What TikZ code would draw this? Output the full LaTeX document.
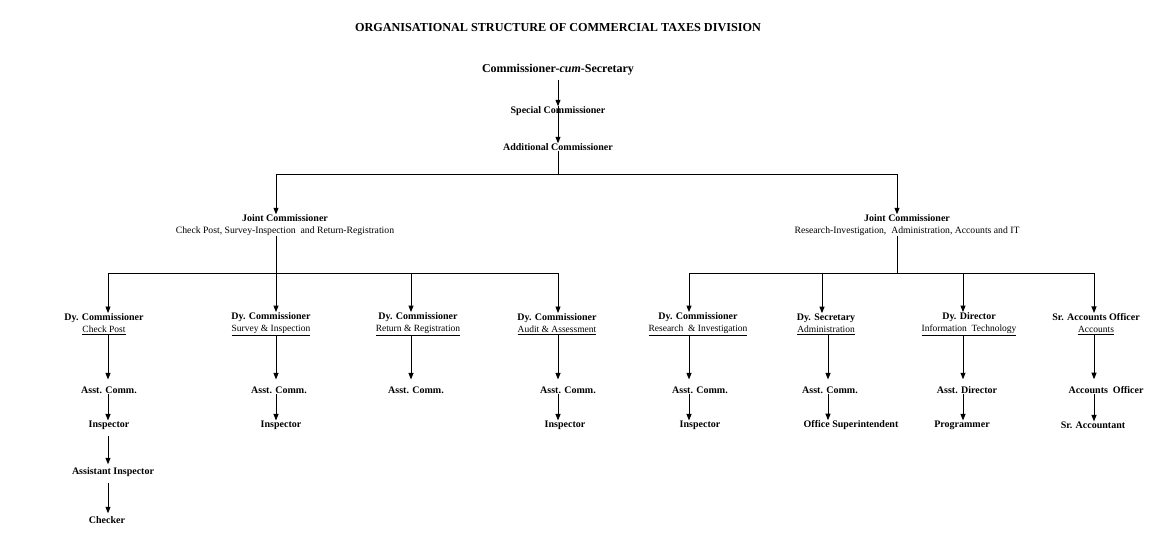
\documentclass[tikz,border=0pt]{standalone}
\usepackage{fontspec}
\setmainfont{Liberation Serif}
\usetikzlibrary{arrows.meta}
\tikzset{
  x=1pt, y=-1pt,
  bl/.style={font=\fontsize{10}{12}\selectfont\bfseries, inner sep=0pt, align=center},
  dy/.style={font=\fontsize{10}{12.5}\selectfont\bfseries, inner sep=0pt, align=center},
  ln/.style={line width=0.9pt},
  arr/.style={line width=0.9pt, -{Triangle[length=6.5pt,width=5pt]}},
}
\newcommand{\subl}[1]{{\normalfont\fontsize{9.5}{12}\selectfont\underline{#1}}}
\newcommand{\subp}[1]{{\normalfont\fontsize{9.7}{12}\selectfont #1}}
\begin{document}
\begin{tikzpicture}
\useasboundingbox[fill=white] (0,0) rectangle (1155,543);
% title
\node[font=\fontsize{12.2}{14}\selectfont\bfseries, inner sep=0pt] (title) at (558,28) {ORGANISATIONAL STRUCTURE OF COMMERCIAL TAXES DIVISION};
\node[font=\fontsize{12}{14}\selectfont\bfseries, inner sep=0pt] (cs) at (558,70) {Commissioner-\textit{cum}-Secretary};
\node[bl] (spec) at (558,111) {Special Commissioner};
\node[bl] (add) at (558,147) {Additional Commissioner};
% joint commissioners
\node[bl] (jl) at (285,225) {Joint Commissioner\\\subp{Check Post, Survey-Inspection\ \ and Return-Registration}};
\node[bl] (jr) at (907,225) {Joint Commissioner\\\subp{Research-Investigation,\ \ Administration, Accounts and IT}};
% bus coordinates
\coordinate (b1L) at (276,174);
\coordinate (b1R) at (897,174);
\coordinate (c1) at (108,273);
\coordinate (c2) at (276,273);
\coordinate (c3) at (411,273);
\coordinate (c4) at (558,273);
\coordinate (c5) at (689,273);
\coordinate (c6) at (822,273);
\coordinate (c7) at (963,273);
\coordinate (c8) at (1094,273);
% deputy level
\node[dy] (d1) at (104,324) {Dy. Commissioner\\\subl{Check Post}};
\node[dy] (d2) at (271,324) {Dy. Commissioner\\\subl{Survey \& Inspection}};
\node[dy] (d3) at (418,324) {Dy. Commissioner\\\subl{Return \& Registration}};
\node[dy] (d4) at (557,324) {Dy. Commissioner\\\subl{Audit \& Assessment}};
\node[dy] (d5) at (698,324) {Dy. Commissioner\\\subl{Research\ \ \& Investigation}};
\node[dy] (d6) at (826,324) {Dy. Secretary\\\subl{Administration}};
\node[dy] (d7) at (969,324) {Dy. Director\\\subl{Information\ \ Technology}};
\node[dy] (d8) at (1096,324) {Sr. Accounts Officer\\\subl{Accounts}};
% assistant level
\node[bl] (a1) at (109,390) {Asst. Comm.};
\node[bl] (a2) at (279,390) {Asst. Comm.};
\node[bl] (a3) at (416,390) {Asst. Comm.};
\node[bl] (a4) at (568,390) {Asst. Comm.};
\node[bl] (a5) at (700,390) {Asst. Comm.};
\node[bl] (a6) at (830,390) {Asst. Comm.};
\node[bl] (a7) at (967,390) {Asst. Director};
\node[bl] (a8) at (1106,390) {Accounts\ \ Officer};
% inspector level
\node[bl] (i1) at (109,425) {Inspector};
\node[bl] (i2) at (281,425) {Inspector};
\node[bl] (i4) at (565,425) {Inspector};
\node[bl] (i5) at (700,425) {Inspector};
\node[bl] (i6) at (851,425) {Office Superintendent};
\node[bl] (i7) at (962,425) {Programmer};
\node[bl] (i8) at (1093,425) {Sr. Accountant};
\node[bl] (ai1) at (113,472) {Assistant Inspector};
\node[bl] (ch1) at (107,520) {Checker};
% top chain
\draw[arr] ([yshift=-4pt]cs.south) -- (spec.north);
\draw[arr] (spec.north) -- (add.north);
\draw[ln] (add.south) -- (add.south |- b1L);
\draw[ln] (b1L) -- (b1R);
\draw[arr] (b1L) -- (b1L |- jl.north);
\draw[arr] (b1R) -- (b1R |- jr.north);
% joint to buses
\draw[ln] (jl.south -| c2) -- (c2);
\draw[ln] (jr.south -| b1R) -- (b1R |- c5);
\draw[ln] (c1) -- (c4);
\draw[ln] (c5) -- (c8);
\foreach \c/\d in {c1/d1,c2/d2,c3/d3,c4/d4,c5/d5,c6/d6,c7/d7,c8/d8}
  \draw[arr] (\c) -- (\c |- \d.north);
% deputy to assistant
\begin{scope}[shorten >=7pt]
\draw[arr] (d1.south -| c1) -- (c1 |- a1.north);
\draw[arr] (d2.south -| c2) -- (c2 |- a2.north);
\draw[arr] (d3.south -| c3) -- (c3 |- a3.north);
\draw[arr] (d4.south -| c4) -- (c4 |- a4.north);
\draw[arr] (d5.south -| c5) -- (c5 |- a5.north);
\draw[arr] ([xshift=6pt]d6.south -| c6) -- ([xshift=6pt]c6 |- a6.north);
\draw[arr] (d7.south -| c7) -- (c7 |- a7.north);
\draw[arr] (d8.south -| c8) -- (c8 |- a8.north);
\end{scope}
% assistant to inspector
\draw[arr] (a1.south -| c1) -- (c1 |- i1.north);
\draw[arr] (a2.south -| c2) -- (c2 |- i2.north);
\draw[arr] (a4.south -| c4) -- (c4 |- i4.north);
\draw[arr] (a5.south -| c5) -- (c5 |- i5.north);
\draw[arr] ([xshift=6pt]a6.south -| c6) -- ([xshift=6pt]c6 |- i6.north);
\draw[arr] (a7.south -| c7) -- (c7 |- i7.north);
\draw[arr] (a8.south -| c8) -- (c8 |- i8.north);
% check post chain
\draw[arr, shorten >=3pt] ([yshift=-6pt]i1.south -| c1) -- (c1 |- ai1.north);
\draw[arr, shorten >=3pt] ([yshift=-6pt]ai1.south -| c1) -- (c1 |- ch1.north);
\end{tikzpicture}
\end{document}
